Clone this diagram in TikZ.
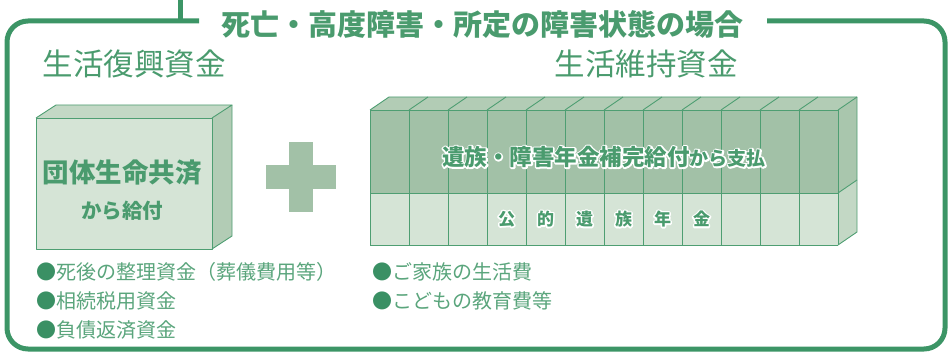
\documentclass[tikz,border=0pt]{standalone}
\usepackage{fontspec}
\setmainfont{Noto Sans CJK JP}
\definecolor{fg}{HTML}{3C9566}
\definecolor{tg}{HTML}{4A9B6E}
\definecolor{lt}{HTML}{5AA57C}
\definecolor{bul}{HTML}{3A9064}
\definecolor{frontL}{HTML}{D5E4D6}
\definecolor{topL}{HTML}{C3D8C5}
\definecolor{sideL}{HTML}{B2CCB5}
\definecolor{dark}{HTML}{A2C1A7}
\definecolor{darkside}{HTML}{A9C6AD}
\definecolor{edge}{HTML}{4E9E72}
\newcommand{\fs}[1]{\fontsize{#1}{#1}\selectfont}
% white outlined text: stroke pass (white) then normal fill pass
\newcommand{\outl}[1]{%
  \rlap{\special{pdf:literal direct 1 Tr 1 1 1 RG 3 w 1 j}#1\special{pdf:literal direct 0 Tr}}#1}
\tikzset{
  frame/.style={draw=fg,line width=5pt,rounded corners=21pt},
  boxedge/.style={draw=edge,line width=0.9pt,line join=round},
  head/.style={text=tg,inner sep=0},
  bullet/.style={text=lt,inner sep=0,anchor=west},
}
\begin{document}
\begin{tikzpicture}[x=1pt,y=-1pt]
\useasboundingbox (0,0) rectangle (952,352);
% frame
\draw[frame] (199,21) -- (7,21) -- (7,349) -- (945,349) -- (945,21) -- (767,21);
\draw[draw=fg,line width=5pt] (180,0) -- (180,21);
\node[head,font=\fs{29}\bfseries] (title) at (482,24) {死亡・高度障害・所定の障害状態の場合};
\node[head,font=\fs{30.5}] (h1) at (134,64) {生活復興資金};
\node[head,font=\fs{30.5}] (h2) at (646,64) {生活維持資金};
% left box
\fill[frontL] (36,118) rectangle (212,249);
\fill[topL] (36,118) -- (56,105) -- (232,105) -- (212,118) -- cycle;
\fill[sideL] (212,118) -- (232,105) -- (232,236) -- (212,249) -- cycle;
\draw[boxedge] (36,118) rectangle (212,249);
\draw[boxedge] (36,118) -- (56,105) -- (232,105) -- (212,118);
\draw[boxedge] (232,105) -- (232,236) -- (212,249);
\node[head,font=\fs{26.5}\bfseries] (dantai) at (122,173) {団体生命共済};
\node[head,font=\fs{20.5}\bfseries] (kara) at (122,211) {から給付};
% plus
\fill[dark] (266,165) rectangle (336,189);
\fill[dark] (289,142) rectangle (313,212);
% right box
\fill[dark] (370,110) rectangle (838,193);
\fill[frontL] (370,193) rectangle (838,245);
\fill[sideL] (370,110) -- (389,97) -- (857,97) -- (838,110) -- cycle;
\fill[darkside] (838,110) -- (857,97) -- (857,180) -- (838,193) -- cycle;
\fill[topL] (838,193) -- (857,180) -- (857,232) -- (838,245) -- cycle;
\foreach \k in {0,...,12} {
  \draw[boxedge] ({370+39*\k},110) -- ({370+39*\k},245);
  \draw[boxedge] ({370+39*\k},110) -- ({389+39*\k},97);
}
\draw[boxedge] (370,110) -- (838,110);
\draw[boxedge] (370,193) -- (838,193);
\draw[boxedge] (370,245) -- (838,245);
\draw[boxedge] (389,97) -- (857,97) -- (857,232) -- (838,245);
\draw[boxedge] (838,193) -- (857,180);
\node[head] (izoku) at (604,157) {\outl{{\fs{22.5}\bfseries 遺族・障害年金補完給付}{\fs{19}\bfseries から支払}}};
\foreach \c [count=\i from 3] in {公,的,遺,族,年,金} {
  \node[head,font=\fs{17}\bfseries] (kn\i) at ({370+39*\i+19.5},219) {\outl{\c}};
}
% bullets
\node[bullet,font=\fs{20}] (b1) at (36,272) {{\color{bul}●}死後の整理資金（葬儀費用等）};
\node[bullet,font=\fs{20}] (b2) at (36,301) {{\color{bul}●}相続税用資金};
\node[bullet,font=\fs{20}] (b3) at (36,330) {{\color{bul}●}負債返済資金};
\node[bullet,font=\fs{20}] (b4) at (372,272) {{\color{bul}●}ご家族の生活費};
\node[bullet,font=\fs{20}] (b5) at (372,301) {{\color{bul}●}こどもの教育費等};
\end{tikzpicture}
\end{document}
